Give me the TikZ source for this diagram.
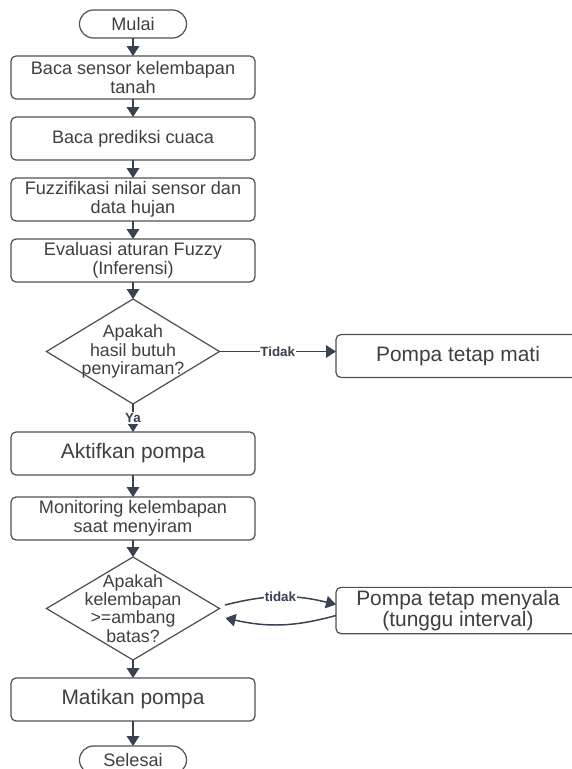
\documentclass[tikz,border=0pt]{standalone}
\usepackage{fontspec}
\setmainfont{Liberation Sans}
\usepackage{tikz}
\usetikzlibrary{positioning,arrows.meta,shapes.geometric}
\definecolor{txtgray}{HTML}{3F3F3F}
\definecolor{edgegray}{HTML}{505050}
\definecolor{arrowslate}{HTML}{394250}
\tikzset{
  prosesbox/.style={rectangle, draw=edgegray, line width=0.7pt, rounded corners=1mm, minimum width=4.88cm, minimum height=0.86cm, inner sep=0.5mm, outer sep=0pt, align=center, text=txtgray, font=\fontsize{10.3}{10.6}\selectfont},
  bigbox/.style={prosesbox, font=\fontsize{11.9}{12.4}\selectfont},
  terminal/.style={prosesbox, rounded corners=2.8mm, minimum width=2.14cm, minimum height=0.56cm},
  decision/.style={diamond, draw=edgegray, line width=0.7pt, aspect=1.65, inner sep=-2mm, outer sep=0pt, minimum width=3.46cm, minimum height=2.1cm, align=center, text=txtgray, font=\fontsize{10.1}{10.4}\selectfont},
  fwd/.style={-{Triangle[width=2.5mm,length=2mm]}, line width=1.1pt, draw=arrowslate},
  side/.style={fwd, line width=0.85pt},
  lbl/.style={fill=white, inner sep=0.5pt, text=arrowslate, font=\fontsize{7.6}{8}\selectfont\bfseries},
}

\begin{document}
\begin{tikzpicture}
\useasboundingbox (-2.66,0.48) rectangle (8.76,-14.9);
%Nodes
\node[terminal] (mulai) {Mulai};
\node[prosesbox] (bacaSensor) [below=0.36cm of mulai] {Baca sensor kelembapan\\tanah};
\node[prosesbox] (bacaCuaca) [below=0.36cm of bacaSensor] {Baca prediksi cuaca};
\node[prosesbox] (fuzzifikasi) [below=0.36cm of bacaCuaca] {Fuzzifikasi nilai sensor dan\\data hujan};
\node[prosesbox] (inferensi) [below=0.36cm of fuzzifikasi] {Evaluasi aturan Fuzzy\\(Inferensi)};
\node[decision] (cekSiram) [below=0.34cm of inferensi] {Apakah\\hasil butuh\\penyiraman?};
\node[bigbox] (tetapMati) [right=2.33cm of cekSiram, yshift=-0.09cm] {Pompa tetap mati};
\node[bigbox] (aktifkan) [below=0.56cm of cekSiram] {Aktifkan pompa};
\node[prosesbox] (monitoring) [below=0.44cm of aktifkan] {Monitoring kelembapan\\saat menyiram};
\node[decision, minimum height=2.06cm] (cekBatas) [below=0.34cm of monitoring] {Apakah\\kelembapan\\>=ambang\\batas?};
\node[bigbox] (tetapNyala) [right=2.33cm of cekBatas, yshift=-0.04cm] {Pompa tetap menyala\\(tunggu interval)};
\node[bigbox] (matikan) [below=0.36cm of cekBatas] {Matikan pompa};
\node[terminal] (selesai) [below=0.5cm of matikan] {Selesai};

%Lines
\draw[fwd] (mulai) -- (bacaSensor);
\draw[fwd] (bacaSensor) -- (bacaCuaca);
\draw[fwd] (bacaCuaca) -- (fuzzifikasi);
\draw[fwd] (fuzzifikasi) -- (inferensi);
\draw[fwd] (inferensi) -- (cekSiram);
\draw[side] (cekSiram.east) -- node[lbl] {Tidak} (cekSiram.east -| tetapMati.west);
\draw[fwd] (cekSiram) -- node[lbl] {Ya} (aktifkan);
\draw[fwd] (aktifkan) -- (monitoring);
\draw[fwd] (monitoring) -- (cekBatas);
\draw[side] ([shift={(0.11,0.07)}]cekBatas.east) to[bend left=14] node[lbl] {tidak} ([yshift=0.12cm]tetapNyala.west);
\draw[side] ([yshift=-0.1cm]tetapNyala.west) to[bend left=14] ([shift={(0.12,-0.19)}]cekBatas.east);
\draw[fwd] (cekBatas) -- (matikan);
\draw[fwd] (matikan) -- (selesai);
\end{tikzpicture}
\end{document}
